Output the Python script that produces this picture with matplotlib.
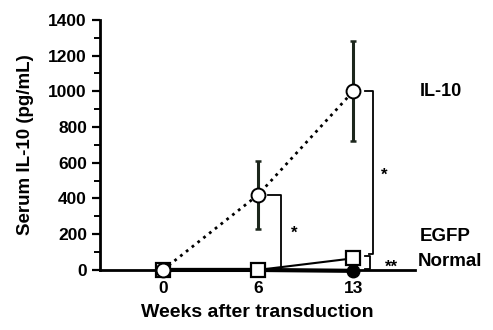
import matplotlib
matplotlib.use("Agg")
import matplotlib.pyplot as plt
from matplotlib.ticker import MultipleLocator

plt.rcParams['font.family'] = ['Liberation Sans', 'DejaVu Sans']
plt.rcParams['font.weight'] = 'bold'

weeks = ["0", "6", "13"]
il10 = [0, 420, 1000]
il10_err = [0, 190, 280]
egfp = [0, 0, 65]
normal = [0, 0, -5]

xpos = list(range(len(weeks)))

fig = plt.figure(figsize=(4.93, 3.3), dpi=100)
ax = fig.add_axes([0.203, 0.182, 0.639, 0.758])

ax.errorbar(xpos, il10, yerr=il10_err, fmt='none', ecolor='#1c261c', elinewidth=2.2,
            capsize=2, capthick=1.8, clip_on=False, zorder=2)
ax.plot(xpos, normal, '-o', color='black', lw=3, ms=9, mfc='black', mec='black',
        clip_on=False, zorder=3)
ax.plot(xpos, egfp, '-s', color='black', lw=1.5, ms=9.5, mfc='white', mec='black',
        mew=1.6, clip_on=False, zorder=4)
ax.plot(xpos, il10, ':o', color='black', lw=2, ms=10, mfc='white', mec='black',
        mew=1.4, clip_on=False, zorder=5)

# significance brackets
ax.plot([1.1, 1.24, 1.24, 1.12], [420, 420, 5, 5], color='black', lw=1.3, clip_on=False)
ax.text(1.38, 205, '*', ha='center', va='center', fontsize=12)
ax.plot([2.12, 2.21, 2.21, 2.17], [1000, 1000, 90, 90], color='black', lw=1.3, clip_on=False)
ax.text(2.33, 530, '*', ha='center', va='center', fontsize=12)
ax.plot([2.12, 2.18, 2.18, 2.12], [80, 80, 5, 5], color='black', lw=1.3, clip_on=False)
ax.text(2.4, 15, '**', ha='center', va='center', fontsize=12)

# series labels
ax.text(2.7, 1000, 'IL-10', ha='left', va='center', fontsize=13)
ax.text(2.7, 185, 'EGFP', ha='left', va='center', fontsize=13.5)
ax.text(2.68, 45, 'Normal', ha='left', va='center', fontsize=13.5)

ax.set_xlim(-0.66, 2.65)
ax.set_ylim(0, 1400)
ax.set_xticks(xpos)
ax.set_xticklabels(weeks)
ax.yaxis.set_major_locator(MultipleLocator(200))
ax.yaxis.set_minor_locator(MultipleLocator(100))
ax.tick_params(axis='x', length=0, pad=8, labelsize=12.5)
ax.tick_params(axis='y', which='major', length=6, width=1.6, labelsize=12.5)
ax.tick_params(axis='y', which='minor', length=4, width=1.4)
for lab in ax.get_xticklabels() + ax.get_yticklabels():
    lab.set_fontweight('bold')

ax.spines['top'].set_visible(False)
ax.spines['right'].set_visible(False)
ax.spines['left'].set_linewidth(2)
ax.spines['bottom'].set_linewidth(2)

ax.set_ylabel('Serum IL-10 (pg/mL)', fontsize=13.5, fontweight='bold', labelpad=10)
ax.set_xlabel('Weeks after transduction', fontsize=14, fontweight='bold', labelpad=6)

fig.savefig('out.png', dpi=100, facecolor='white')
